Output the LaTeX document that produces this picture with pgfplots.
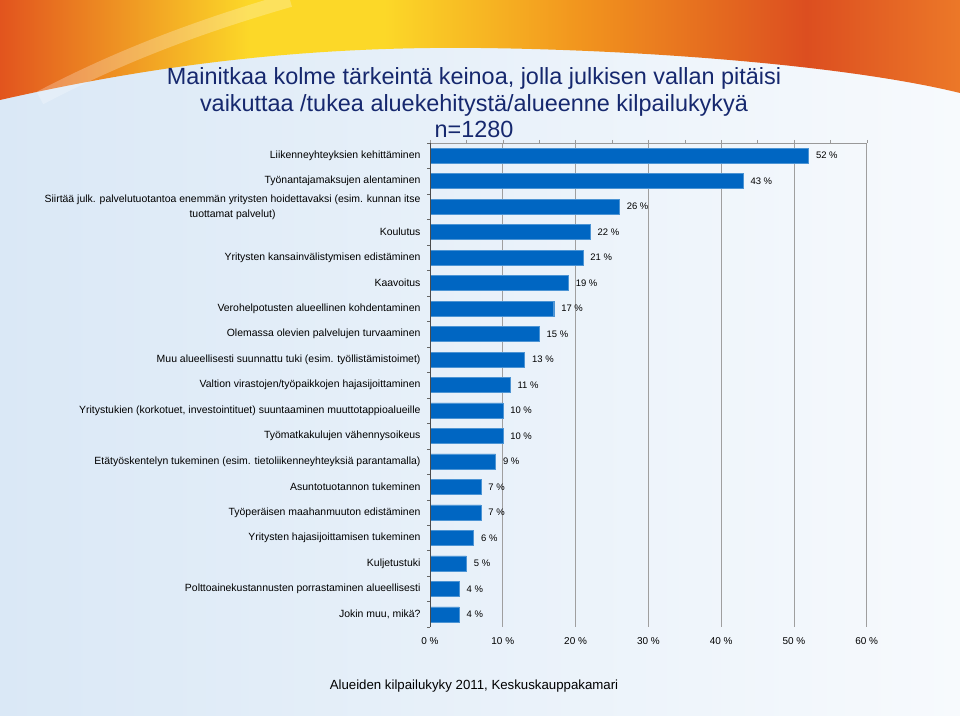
\documentclass[border=0pt]{standalone}
\usepackage{fontspec}
\setmainfont{Liberation Sans}
\usepackage{pgfplots}
\usepackage{pgfplotstable}
\pgfplotsset{compat=1.18}
\definecolor{barblue}{RGB}{0,102,194}
\definecolor{navy}{RGB}{22,40,110}
\definecolor{bgleft}{RGB}{218,232,246}
\definecolor{bgright}{RGB}{247,250,253}
\definecolor{or1}{RGB}{226,84,30}
\definecolor{ye1}{RGB}{252,216,40}
\definecolor{or2}{RGB}{242,150,30}
\definecolor{re1}{RGB}{220,78,32}
\definecolor{or3}{RGB}{236,120,40}
\pgfdeclarehorizontalshading{swoosh}{100bp}{color(0bp)=(or1); color(25bp)=(or1); color(38bp)=(ye1); color(45bp)=(ye1); color(55bp)=(or2); color(67bp)=(re1); color(75bp)=(or3); color(100bp)=(or3)}
\pgfplotstableread{
y v
18 52
17 43
16 26
15 22
14 21
13 19
12 17
11 15
10 13
9 11
8 10
7 10
6 9
5 7
4 7
3 6
2 5
1 4
0 4
}\data
\begin{document}
\begin{tikzpicture}[x=1bp,y=1bp]
\useasboundingbox (0,0) rectangle (960,716);
\shade[left color=bgleft,right color=bgright] (0,0) rectangle (960,716);
\shade[shading=swoosh] (0,716) -- (960,716) -- (960,623) .. controls (850,650) and (650,666) .. (480,668) .. controls (300,670) and (150,650) .. (0,616) -- cycle;
\begin{scope}
\clip (0,0) rectangle (960,716);
\draw[line width=14bp, white, opacity=0.25] (40,618) .. controls (120,660) and (200,690) .. (290,716);
\end{scope}
\node[font=\fontsize{23.5}{26.5}\selectfont, text=navy, align=center] at (474,613)
  {Mainitkaa kolme tärkeintä keinoa, jolla julkisen vallan pitäisi\\vaikuttaa /tukea aluekehitystä/alueenne kilpailukykyä\\n=1280};
\node[font=\fontsize{13.3}{15}\selectfont] at (474,30) {Alueiden kilpailukyky 2011, Keskuskauppakamari};
\begin{axis}[
  at={(430bp,89bp)}, anchor=south west,
  scale only axis, width=436.7bp, height=484bp,
  xmin=0, xmax=60, ymin=-0.5, ymax=18.5,
  xbar, bar width=15bp, bar shift=0pt,
  axis line style={draw=none},
  xtick pos=right,
  xticklabel pos=left,
  ytick pos=left,
  yticklabel pos=left,
  tick align=outside,
  major tick length=3bp, minor tick length=3bp,
  xtick={0,10,...,60},
  xticklabels={0 \%,10 \%,20 \%,30 \%,40 \%,50 \%,60 \%},
  minor xtick={5,15,...,55},
  xtick style={gray!80},
  ytick={0,...,18},
  minor ytick={-0.5,0.5,...,18.5},
  major y tick style={draw=none},
  minor y tick style={black!60},
  yticklabels={{Jokin muu, mikä?},
    Polttoainekustannusten porrastaminen alueellisesti,
    Kuljetustuki,
    Yritysten hajasijoittamisen tukeminen,
    Työperäisen maahanmuuton edistäminen,
    Asuntotuotannon tukeminen,
    {Etätyöskentelyn tukeminen (esim. tietoliikenneyhteyksiä parantamalla)},
    Työmatkakulujen vähennysoikeus,
    {Yritystukien (korkotuet, investointituet) suuntaaminen muuttotappioalueille},
    Valtion virastojen/työpaikkojen hajasijoittaminen,
    {Muu alueellisesti suunnattu tuki (esim. työllistämistoimet)},
    Olemassa olevien palvelujen turvaaminen,
    Verohelpotusten alueellinen kohdentaminen,
    Kaavoitus,
    Yritysten kansainvälistymisen edistäminen,
    Koulutus,
    {\raisebox{-11bp}[0pt][0pt]{\shortstack{Siirtää julk. palvelutuotantoa enemmän yritysten hoidettavaksi (esim. kunnan itse\\[2.5bp]tuottamat palvelut)}}},
    Työnantajamaksujen alentaminen,
    Liikenneyhteyksien kehittäminen},
  yticklabel style={font=\fontsize{10.5}{13.5}\selectfont, align=center, xshift=-3bp},
  xticklabel style={font=\fontsize{10}{12}\selectfont, yshift=-4bp},
  xmajorgrids, major grid style={gray!75, line width=0.8bp},
  /pgf/number format/assume math mode=true,
  point meta=x,
  nodes near coords={\pgfmathprintnumber{\pgfplotspointmeta} \%},
  nodes near coords style={font=\fontsize{9.5}{11}\selectfont, xshift=4bp},
  clip=false,
  after end axis/.code={
    \draw[gray!80] (rel axis cs:0,1) -- (rel axis cs:1,1);
    \draw[black!70] (rel axis cs:0,0) -- (rel axis cs:0,1);
  },
]
\addplot[fill=barblue, draw=barblue!70!white, line width=0.4bp] table[x=v,y=y]{\data};
\end{axis}
\end{tikzpicture}
\end{document}
